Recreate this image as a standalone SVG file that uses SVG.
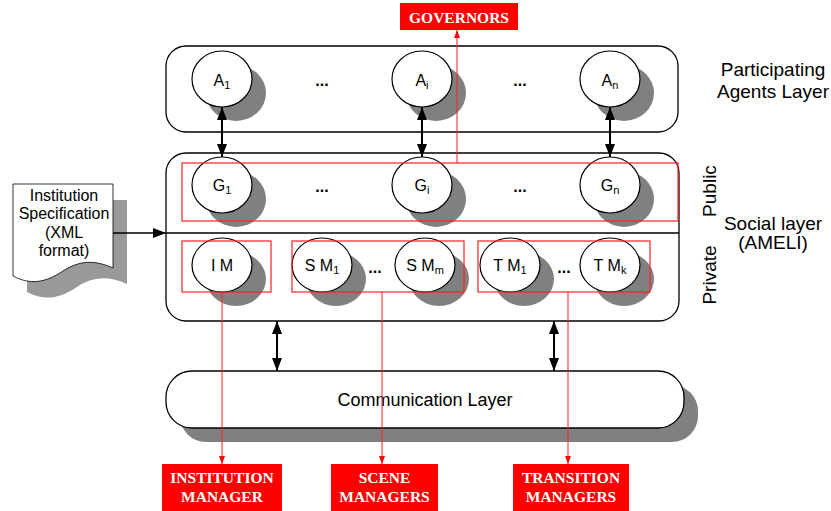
<svg xmlns="http://www.w3.org/2000/svg" width="831" height="511" viewBox="0 0 831 511">
<defs>
<style>
.layer{fill:#fff;stroke:#000;stroke-width:1.3}
.shadow{fill:#808080}
.node{fill:#fff;stroke:#000;stroke-width:1.2}
.lbl{font-family:"Liberation Sans",Arial,sans-serif;font-size:16px;text-anchor:middle;fill:#000}
.sub{font-size:11px}
.dots{font-family:"Liberation Sans",Arial,sans-serif;font-size:16px;font-weight:bold;text-anchor:middle}
.big{font-family:"Liberation Sans",Arial,sans-serif;font-size:19px;text-anchor:middle;fill:#000}
.redbox{fill:none;stroke:#ff2020;stroke-width:1.2}
.redline{stroke:#ff2020;stroke-width:1;fill:none}
.tag{fill:#ff0000}
.tagtxt{font-family:"Liberation Serif","Times New Roman",serif;font-weight:bold;font-size:15.5px;fill:#fff;text-anchor:middle}
.arr{stroke:#000;stroke-width:2;fill:none}
</style>
<marker id="ah" viewBox="0 0 13 10" refX="13" refY="5" markerWidth="13" markerHeight="10" orient="auto-start-reverse" markerUnits="userSpaceOnUse"><path d="M0,0 L13,5 L0,10 z" fill="#000"/></marker>
<marker id="rh" viewBox="0 0 8 6" refX="8" refY="3" markerWidth="8" markerHeight="6" orient="auto" markerUnits="userSpaceOnUse"><path d="M0,0 L8,3 L0,6 z" fill="#ff0000"/></marker>
</defs>
<rect width="831" height="511" fill="#fff"/>

<g id="agents-layer">
<rect class="layer" x="166" y="46" width="512" height="86" rx="20"/>
<text class="big" x="773" y="76">Participating</text>
<text class="big" x="773" y="98">Agents Layer</text>
</g>

<g id="social-layer">
<rect class="layer" x="166" y="153" width="513" height="168" rx="20"/>
<line x1="166" y1="233" x2="679" y2="233" stroke="#000" stroke-width="1.5"/>
<text class="big" x="773" y="230">Social layer</text>
<text class="big" x="773" y="249">(AMELI)</text>
<text class="big" transform="translate(716,191) rotate(-90)">Public</text>
<text class="big" transform="translate(716,275) rotate(-90)">Private</text>
</g>

<g id="communication-layer">
<rect class="shadow" x="180" y="385" width="518" height="57" rx="26"/>
<rect class="layer" x="166" y="371" width="518" height="57" rx="26"/>
<text class="big" x="425" y="406" style="font-size:18px">Communication Layer</text>
</g>

<g id="institution-spec">
<path d="M27,200 H127 V284 C109,276 94,276 77,287 C59,299 44,301 27,292 Z" fill="#999"/>
<path d="M13,184 H113 V268 C95,260 80,260 63,271 C45,283 30,285 13,276 Z" fill="#fff" stroke="#000" stroke-width="0.8"/>
<text class="lbl" x="64" y="201">Institution</text>
<text class="lbl" x="64" y="219">Specification</text>
<text class="lbl" x="64" y="238">(XML</text>
<text class="lbl" x="64" y="256">format)</text>
</g>

<g id="A1"><ellipse class="shadow" cx="236" cy="93" rx="30" ry="28"/><ellipse class="node" cx="222" cy="79" rx="30" ry="28"/><text class="lbl" x="222" y="86">A<tspan class="sub" dy="3">1</tspan></text></g>
<g id="Ai"><ellipse class="shadow" cx="436" cy="93" rx="30" ry="28"/><ellipse class="node" cx="422" cy="79" rx="30" ry="28"/><text class="lbl" x="422" y="86">A<tspan class="sub" dy="3">i</tspan></text></g>
<g id="An"><ellipse class="shadow" cx="624" cy="93" rx="30" ry="28"/><ellipse class="node" cx="610" cy="79" rx="30" ry="28"/><text class="lbl" x="610" y="86">A<tspan class="sub" dy="3">n</tspan></text></g>
<g id="agent-dots"><text class="dots" x="322" y="86">...</text><text class="dots" x="520" y="86">...</text></g>

<g id="G1"><ellipse class="shadow" cx="236" cy="199" rx="30" ry="28"/><ellipse class="node" cx="222" cy="185" rx="30" ry="28"/><text class="lbl" x="222" y="191">G<tspan class="sub" dy="3">1</tspan></text></g>
<g id="Gi"><ellipse class="shadow" cx="436" cy="199" rx="30" ry="28"/><ellipse class="node" cx="422" cy="185" rx="30" ry="28"/><text class="lbl" x="422" y="191">G<tspan class="sub" dy="3">i</tspan></text></g>
<g id="Gn"><ellipse class="shadow" cx="624" cy="199" rx="30" ry="28"/><ellipse class="node" cx="610" cy="185" rx="30" ry="28"/><text class="lbl" x="610" y="191">G<tspan class="sub" dy="3">n</tspan></text></g>
<g id="gov-dots"><text class="dots" x="322" y="192">...</text><text class="dots" x="520" y="192">...</text></g>

<g id="IM"><ellipse class="shadow" cx="236" cy="279" rx="30" ry="27"/><ellipse class="node" cx="222" cy="265" rx="30" ry="27"/><text class="lbl" x="222" y="271">I M</text></g>
<g id="SM1"><ellipse class="shadow" cx="336" cy="279" rx="30" ry="27"/><ellipse class="node" cx="322" cy="265" rx="30" ry="27"/><text class="lbl" x="322" y="271">S M<tspan class="sub" dy="3">1</tspan></text></g>
<g id="SMm"><ellipse class="shadow" cx="439" cy="279" rx="30" ry="27"/><ellipse class="node" cx="425" cy="265" rx="30" ry="27"/><text class="lbl" x="425" y="271">S M<tspan class="sub" dy="3">m</tspan></text></g>
<g id="TM1"><ellipse class="shadow" cx="524" cy="279" rx="30" ry="27"/><ellipse class="node" cx="510" cy="265" rx="30" ry="27"/><text class="lbl" x="510" y="271">T M<tspan class="sub" dy="3">1</tspan></text></g>
<g id="TMk"><ellipse class="shadow" cx="624" cy="279" rx="30" ry="27"/><ellipse class="node" cx="610" cy="265" rx="30" ry="27"/><text class="lbl" x="610" y="271">T M<tspan class="sub" dy="3">k</tspan></text></g>
<g id="mgr-dots"><text class="dots" x="375" y="273">...</text><text class="dots" x="564" y="273">...</text></g>

<g id="groups">
<rect class="redbox" x="182" y="163" width="496" height="58"/>
<rect class="redbox" x="182" y="241" width="89" height="51"/>
<rect class="redbox" x="292" y="241" width="172" height="51"/>
<rect class="redbox" x="478" y="241" width="172" height="51"/>
</g>

<g id="connectors">
<line class="arr" x1="222" y1="107" x2="222" y2="157" marker-start="url(#ah)" marker-end="url(#ah)"/>
<line class="arr" x1="422" y1="107" x2="422" y2="157" marker-start="url(#ah)" marker-end="url(#ah)"/>
<line class="arr" x1="610" y1="107" x2="610" y2="157" marker-start="url(#ah)" marker-end="url(#ah)"/>
<line class="arr" x1="277" y1="321" x2="277" y2="371" marker-start="url(#ah)" marker-end="url(#ah)"/>
<line class="arr" x1="554" y1="321" x2="554" y2="371" marker-start="url(#ah)" marker-end="url(#ah)"/>
<line x1="113" y1="233" x2="166" y2="233" stroke="#000" stroke-width="1.5" marker-end="url(#ah)"/>
<line class="redline" x1="457" y1="163" x2="457" y2="30" marker-end="url(#rh)"/>
<line class="redline" x1="222" y1="292" x2="222" y2="464" marker-end="url(#rh)"/>
<line class="redline" x1="382" y1="292" x2="382" y2="464" marker-end="url(#rh)"/>
<line class="redline" x1="568" y1="292" x2="568" y2="464" marker-end="url(#rh)"/>
</g>

<g id="governors-tag"><rect class="tag" x="400" y="3" width="118" height="27"/><text class="tagtxt" x="459" y="23">GOVERNORS</text></g>
<g id="institution-manager-tag"><rect class="tag" x="162" y="464" width="120" height="47"/><text class="tagtxt" x="222" y="483">INSTITUTION</text><text class="tagtxt" x="222" y="502">MANAGER</text></g>
<g id="scene-managers-tag"><rect class="tag" x="331" y="464" width="107" height="47"/><text class="tagtxt" x="384.5" y="483">SCENE</text><text class="tagtxt" x="384.5" y="502">MANAGERS</text></g>
<g id="transition-managers-tag"><rect class="tag" x="513" y="464" width="116" height="47"/><text class="tagtxt" x="571" y="483">TRANSITION</text><text class="tagtxt" x="571" y="502">MANAGERS</text></g>
</svg>
